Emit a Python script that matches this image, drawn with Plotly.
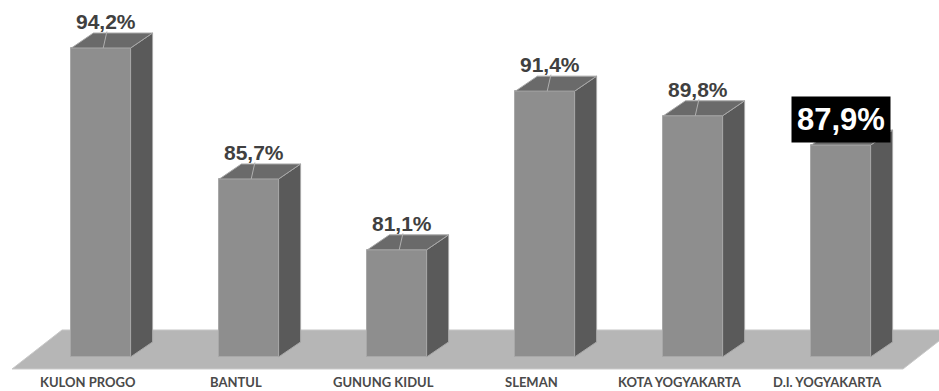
import plotly.graph_objects as go

categories = ["KULON PROGO", "BANTUL", "GUNUNG KIDUL", "SLEMAN", "KOTA YOGYAKARTA", "D.I. YOGYAKARTA"]
values = [94.2, 85.7, 81.1, 91.4, 89.8, 87.9]
labels = ["94,2%", "85,7%", "81,1%", "91,4%", "89,8%", "87,9%"]
highlight_index = 5

BASE = 74.15
BAR_W = 0.4
DX, DY = 0.1486, 0.973  # depth offsets
FRONT = "#8e8e8e"
SIDE = "#5a5a5a"
TOP = "#6a6a6a"
EDGE = "#a8a8a8"
FLOOR = "#b6b6b6"

n = len(categories)
xs = list(range(n))

fig = go.Figure()

# front faces
fig.add_trace(go.Bar(
    x=xs, y=[v - BASE for v in values], base=BASE, width=BAR_W,
    marker=dict(color=FRONT, line=dict(color=EDGE, width=1)),
    hoverinfo="skip", showlegend=False,
))

# side and top faces
for i, v in enumerate(values):
    r = i + BAR_W / 2
    l = i - BAR_W / 2
    fig.add_trace(go.Scatter(
        x=[r, r + DX, r + DX, r, r], y=[BASE, BASE + DY, v + DY, v, BASE],
        fill="toself", fillcolor=SIDE, mode="lines",
        line=dict(color=EDGE, width=1), hoverinfo="skip", showlegend=False))
    fig.add_trace(go.Scatter(
        x=[l, r, r + DX, l + DX, l], y=[v, v, v + DY, v + DY, v],
        fill="toself", fillcolor=TOP, mode="lines",
        line=dict(color=EDGE, width=1), hoverinfo="skip", showlegend=False))
    if i != highlight_index:
        fig.add_trace(go.Scatter(
            x=[i + 0.015, i + 0.04], y=[v, v + DY * 1.1], mode="lines",
            line=dict(color="#b0b0b0", width=1), hoverinfo="skip", showlegend=False))

# value labels
for i, (v, t) in enumerate(zip(values, labels)):
    if i == highlight_index:
        fig.add_annotation(x=i, y=v + DY, text="<b>%s</b>" % t, showarrow=False,
                           xanchor="center", yanchor="bottom", yshift=-13,
                           font=dict(family="Liberation Sans", size=31, color="white"),
                           bgcolor="black", borderpad=5)
    else:
        fig.add_annotation(x=i + 0.035, y=v + DY, text="<b>%s</b>" % t, showarrow=False,
                           xanchor="center", yanchor="bottom", yshift=-2,
                           font=dict(family="Liberation Sans", size=21, color="#404040"))

# category labels
for i, c in enumerate(categories):
    fig.add_annotation(x=i - 0.09, y=72.33, text="<b>%s</b>" % c, showarrow=False,
                       xanchor="center", yanchor="middle", yshift=3,
                       font=dict(family="Lato", size=13, color="#4a4a4a"))

# floor slab
fl_top, fl_bot = BASE + 1.75, BASE - 0.78
x0b, x0t = -0.601, -0.2635
x1b, x1t = n - 1 + 0.419, n - 1 + 0.757
fig.add_shape(type="path", layer="below", xref="x", yref="y",
              path=f"M {x0b} {fl_bot} L {x0t} {fl_top} L {x1t} {fl_top} L {x1b} {fl_bot} Z",
              fillcolor=FLOOR, line=dict(color="#c8c8c8", width=1))

fig.update_layout(
    width=939, height=391, margin=dict(l=0, r=0, t=0, b=0),
    plot_bgcolor="white", paper_bgcolor="white",
    xaxis=dict(range=[-0.6824, 5.662], visible=False, fixedrange=True),
    yaxis=dict(range=[71.94, 97.315], visible=False, fixedrange=True),
    bargap=0,
)

fig.write_html("out.html")
